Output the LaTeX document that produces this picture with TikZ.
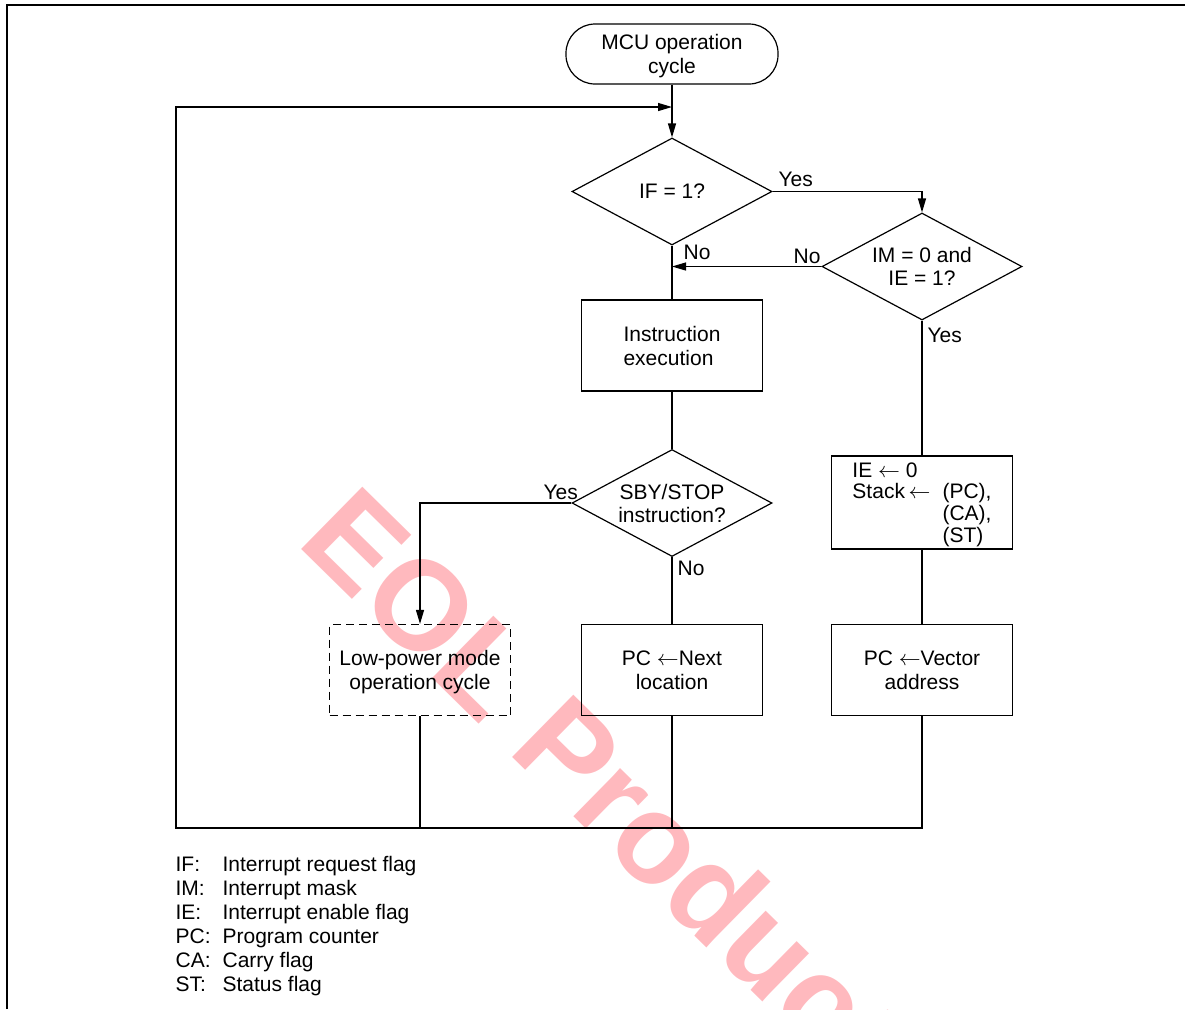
\documentclass[tikz,border=0pt]{standalone}
\usepackage{fontspec}
\setmainfont{Liberation Sans}
\usepackage{amssymb,latexsym}
\usetikzlibrary{shapes.geometric,arrows.meta}

\definecolor{wm}{RGB}{255,185,190}
\tikzset{
  tdrop/.style={execute at begin node={\rule{0pt}{#1}}},
  sink/.style={text depth=-#1},
  box/.style={draw, line width=0.6pt, minimum width=90.5pt, minimum height=45.5pt, inner sep=0pt, align=center,
    font=\fontsize{10.5}{12}\selectfont},
  dec/.style={draw, diamond, line width=0.6pt, shape aspect=1.87, minimum width=100pt, minimum height=53.5pt, inner sep=0pt, align=center},
  lbl/.style={inner sep=0pt, anchor=base west},
  arr/.style={-{Triangle[length=7pt,width=4pt]}},
}

\begin{document}
\begin{tikzpicture}[x=0.5pt, y=-0.5pt, line width=0.6pt, font=\fontsize{10.5}{11.5}\selectfont]
  \useasboundingbox (0,0) rectangle (1188,1009);
  \begin{scope}
    \clip (0,0) rectangle (1188,1009);
    \node[anchor=base west, rotate=-44.5, inner sep=0pt, text=wm, font=\fontsize{63.5}{70}\selectfont\bfseries] (wmark) at (295,543) {EOL Products};
  \end{scope}
  \draw[line width=0.8pt] (7,1009) -- (7,5) -- (1185,5);

  \node[box, sink=2.5pt, rounded corners=14.5pt, minimum width=106pt, minimum height=30pt] (start) at (672,54) {MCU operation\\cycle};
  \node[dec, sink=1pt] (iff) at (672,191.5) {IF = 1?};
  \node[dec, sink=2.5pt] (imie) at (922,266.5) {IM = 0 and\\IE = 1?};
  \node[box, sink=2pt, align=left] (instr) at (672,345.5) {Instruction\\execution};
  \node[dec, sink=2pt] (sby) at (672,503) {SBY/STOP\\instruction?};
  \node[box, sink=2pt, dash pattern=on 4pt off 2.5pt] (lowpow) at (420,670) {Low-power mode\\operation cycle};
  \node[box, sink=5pt] (nextpc) at (672,670) {PC $\leftarrow$Next\\location};
  \node[box, tdrop=10.5pt, minimum height=46.5pt, font=\fontsize{10.5}{10.85}\selectfont] (stack) at (922,502.5)
    {\begin{tabular}[t]{@{}l@{}l@{}}
      IE $\leftarrow$ 0 & \\
      Stack$\,\leftarrow$\hspace{6pt} & (PC),\\
      & (CA),\\
      & (ST)
    \end{tabular}};
  \node[box, sink=5pt] (vecpc) at (922,670) {PC $\leftarrow$Vector\\address};

  \node[lbl] (yes1) at (778,186) {Yes};
  \node[lbl] (no1) at (683,259) {No};
  \node[lbl] (no2) at (793,263) {No};
  \node[lbl] (yes2) at (927,342) {Yes};
  \node[lbl] (yes3) at (543,499) {Yes};
  \node[lbl] (no3) at (677,575) {No};

  \coordinate (lbot) at (176,828);
  \coordinate (ltop) at (176,107);
  \coordinate (join) at (672,107);
  \coordinate (nojoin) at (iff |- imie);

  \draw[arr] (start) -- (iff);
  \draw[arr] (iff) -| (imie);
  \draw[arr] (imie) -- (nojoin);
  \draw (iff) -- (instr);
  \draw (instr) -- (sby);
  \draw[arr] (sby) -| (lowpow);
  \draw (sby) -- (nextpc);
  \draw (imie) -- (stack);
  \draw (stack) -- (vecpc);
  \draw[arr] (vecpc) |- (lbot) -- (ltop) -- (join);
  \draw (lowpow) -- (lowpow |- lbot);
  \draw (nextpc) -- (nextpc |- lbot);

  \node[anchor=base west, inner sep=0pt, font=\fontsize{10.5}{12}\selectfont] (legend) at (175,871)
    {\begin{tabular}[t]{@{}p{23.5pt}@{}l@{}}
      IF: & Interrupt request flag\\
      IM: & Interrupt mask\\
      IE: & Interrupt enable flag\\
      PC: & Program counter\\
      CA: & Carry flag\\
      ST: & Status flag
    \end{tabular}};
\end{tikzpicture}
\end{document}
